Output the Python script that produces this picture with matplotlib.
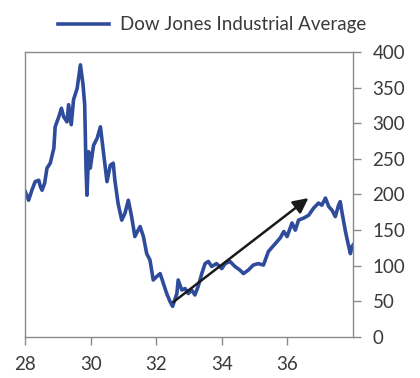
import matplotlib
matplotlib.use("Agg")
import matplotlib.pyplot as plt

# Dow Jones Industrial Average (year - 1900, index value)
years = [28.01, 28.11, 28.21, 28.31, 28.42, 28.47, 28.52, 28.60, 28.67, 28.77,
         28.88, 28.92, 29.03, 29.11, 29.18, 29.28, 29.33, 29.41, 29.48, 29.59,
         29.69, 29.77, 29.82, 29.86, 29.89, 29.94, 29.99, 30.09, 30.20, 30.30,
         30.39, 30.50, 30.60, 30.69, 30.74, 30.84, 30.95, 31.05, 31.15, 31.25,
         31.35, 31.45, 31.51, 31.61, 31.71, 31.81, 31.91, 32.02, 32.12, 32.22,
         32.32, 32.42, 32.50, 32.63, 32.67, 32.78, 32.88, 32.98, 33.08, 33.18,
         33.28, 33.39, 33.49, 33.59, 33.69, 33.84, 34.00, 34.10, 34.25, 34.40,
         34.55, 34.66, 34.81, 34.96, 35.11, 35.27, 35.42, 35.63, 35.78, 35.89,
         35.99, 36.14, 36.24, 36.34, 36.50, 36.65, 36.80, 36.95, 37.05, 37.16,
         37.26, 37.36, 37.46, 37.56, 37.61, 37.66, 37.77, 37.85, 37.92, 37.97,
         38.00]
dow = [204, 192, 206, 218, 220, 211, 206, 216, 237, 244,
       265, 295, 309, 321, 309, 302, 326, 298, 333, 349,
       382, 354, 326, 237, 199, 260, 237, 269, 279, 295,
       260, 218, 241, 244, 220, 187, 164, 174, 192, 169,
       141, 150, 155, 141, 117, 108, 80, 85, 89, 75,
       61, 50, 43, 61, 80, 66, 68, 61, 66, 59,
       71, 89, 103, 106, 99, 103, 96, 103, 106, 99,
       94, 89, 94, 101, 103, 101, 120, 131, 139, 148,
       141, 160, 150, 164, 167, 171, 181, 188, 185, 195,
       183, 178, 169, 185, 190, 176, 148, 131, 117, 127,
       129]

series_label = "Dow Jones Industrial Average"
x_ticks = [28, 30, 32, 34, 36]
y_ticks = [0, 50, 100, 150, 200, 250, 300, 350, 400]
arrow_start = (32.52, 49)
arrow_end = (36.64, 195)

plt.rcParams['font.family'] = ['Lato', 'DejaVu Sans']
text_color = '#3a3a3a'
spine_color = '#8a8a8a'
line_color = '#2f4b9c'

fig = plt.figure(figsize=(4.2, 3.78), dpi=100)
ax = fig.add_axes([0.0595, 0.1085, 0.781, 0.7539])

ax.plot(years, dow, color=line_color, lw=2.6, label=series_label,
        solid_joinstyle='round')

ax.annotate('', xy=arrow_end, xytext=arrow_start,
            arrowprops=dict(arrowstyle='-|>,head_length=0.9,head_width=0.45',
                            color='#1a1a1a', lw=1.8, shrinkA=0, shrinkB=0))

ax.set_xlim(28, 38)
ax.set_ylim(0, 400)
ax.set_xticks(x_ticks)
ax.set_xticklabels([str(t) for t in x_ticks])
ax.set_yticks(y_ticks)
ax.set_yticklabels([str(t) for t in y_ticks])
ax.yaxis.tick_right()
ax.tick_params(axis='both', direction='out', length=6, width=1,
               color=spine_color, labelcolor=text_color, labelsize=13.5)
ax.tick_params(axis='x', pad=8)
ax.tick_params(axis='y', pad=8)
for s in ax.spines.values():
    s.set_color(spine_color)
    s.set_linewidth(1)

fig.legend(loc='center', bbox_to_anchor=(0.505, 0.934), frameon=False,
           fontsize=13.5, handlelength=2.7, handletextpad=0.6,
           labelcolor=text_color)

fig.savefig('out.png', dpi=100)
